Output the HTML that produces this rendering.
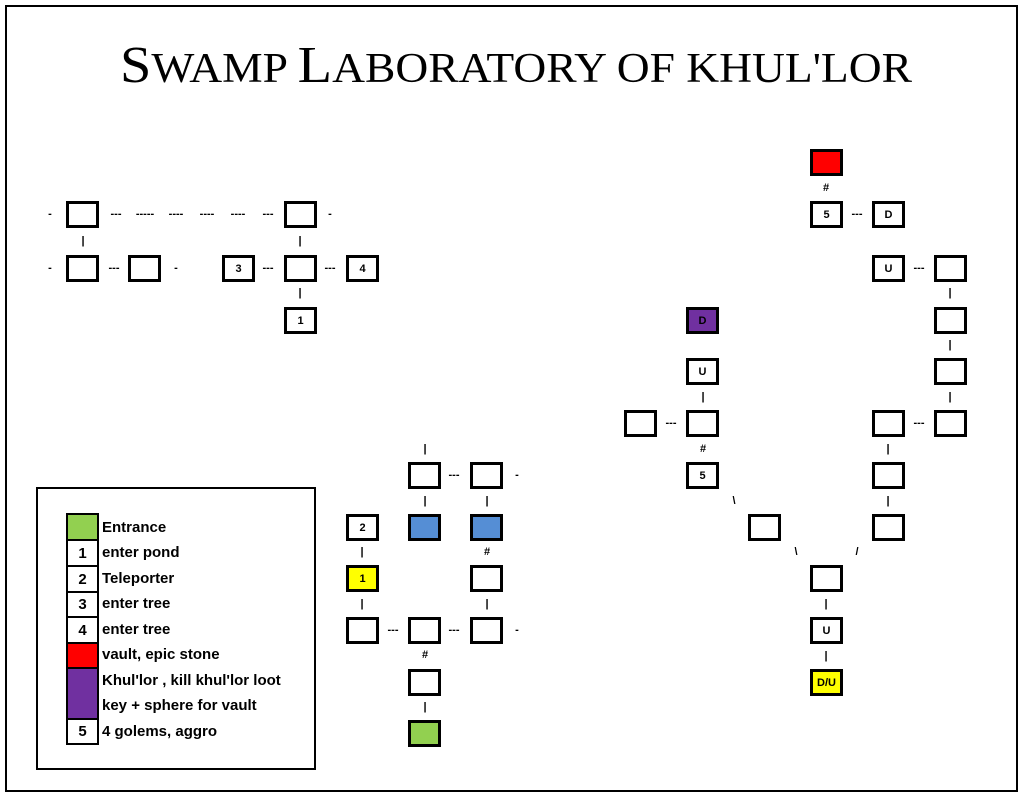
<!DOCTYPE html>
<html><head><meta charset="utf-8"><style>
body{margin:0;width:1026px;height:800px;background:#fff;position:relative;overflow:hidden;font-family:"Liberation Sans",sans-serif}
.frame{position:absolute;left:5px;top:5px;width:1013px;height:787px;border:2px solid #000;box-sizing:border-box}
.b{position:absolute;width:33px;height:27px;border:3px solid #000;box-sizing:border-box;font:bold 11px "Liberation Sans",sans-serif;display:flex;align-items:center;justify-content:center;background:#fff}
.c{position:absolute;font:bold 11px "Liberation Sans",sans-serif;transform:translate(-50%,-50%);white-space:nowrap}
.leg{position:absolute;left:36px;top:487px;width:280px;height:283px;border:2px solid #000;box-sizing:border-box}
.lc{position:absolute;left:66px;width:33px;border:2px solid #000;box-sizing:border-box;font:bold 15px "Liberation Sans",sans-serif;display:flex;align-items:center;justify-content:center;background:#fff}
.lt{position:absolute;left:102px;font:bold 15px "Liberation Sans",sans-serif;white-space:nowrap}
.g{background:#92d050}.bl{background:#558ed5}.y{background:#ffff00}.r{background:#ff0000}.p{background:#7030a0}
.lc.g{background:#92d050}.lc.r{background:#ff0000}.lc.p{background:#7030a0}
</style></head><body>
<div class="frame"></div>
<svg style="position:absolute;left:0;top:0" width="1026" height="110"><text x="120" y="82" textLength="792" lengthAdjust="spacingAndGlyphs" font-family="Liberation Serif" font-size="52"><tspan>S</tspan><tspan font-size="42">WAMP </tspan><tspan>L</tspan><tspan font-size="42">ABORATORY OF KHUL'LOR</tspan></text></svg>

<!-- top-left -->
<div class="b" style="left:66px;top:201px"></div>
<div class="b" style="left:284px;top:201px"></div>
<div class="b" style="left:66px;top:255px"></div>
<div class="b" style="left:128px;top:255px"></div>
<div class="b" style="left:222px;top:255px">3</div>
<div class="b" style="left:284px;top:255px"></div>
<div class="b" style="left:346px;top:255px">4</div>
<div class="b" style="left:284px;top:307px">1</div>
<div class="c" style="left:50px;top:214px">-</div>
<div class="c" style="left:116px;top:214px">---</div>
<div class="c" style="left:145px;top:214px">-----</div>
<div class="c" style="left:176px;top:214px">----</div>
<div class="c" style="left:207px;top:214px">----</div>
<div class="c" style="left:238px;top:214px">----</div>
<div class="c" style="left:268px;top:214px">---</div>
<div class="c" style="left:330px;top:214px">-</div>
<div class="c" style="left:83px;top:241px">|</div>
<div class="c" style="left:300px;top:241px">|</div>
<div class="c" style="left:300px;top:293px">|</div>
<div class="c" style="left:50px;top:268px">-</div>
<div class="c" style="left:114px;top:268px">---</div>
<div class="c" style="left:176px;top:268px">-</div>
<div class="c" style="left:268px;top:268px">---</div>
<div class="c" style="left:330px;top:268px">---</div>

<!-- middle -->
<div class="b" style="left:408px;top:462px"></div>
<div class="b" style="left:470px;top:462px"></div>
<div class="b bl" style="left:408px;top:514px"></div>
<div class="b bl" style="left:470px;top:514px"></div>
<div class="b" style="left:346px;top:514px">2</div>
<div class="b y" style="left:346px;top:565px">1</div>
<div class="b" style="left:470px;top:565px"></div>
<div class="b" style="left:346px;top:617px"></div>
<div class="b" style="left:408px;top:617px"></div>
<div class="b" style="left:470px;top:617px"></div>
<div class="b" style="left:408px;top:669px"></div>
<div class="b g" style="left:408px;top:720px"></div>
<div class="c" style="left:425px;top:449px">|</div>
<div class="c" style="left:454px;top:475px">---</div>
<div class="c" style="left:517px;top:475px">-</div>
<div class="c" style="left:425px;top:501px">|</div>
<div class="c" style="left:487px;top:501px">|</div>
<div class="c" style="left:362px;top:552px">|</div>
<div class="c" style="left:487px;top:552px">#</div>
<div class="c" style="left:362px;top:604px">|</div>
<div class="c" style="left:487px;top:604px">|</div>
<div class="c" style="left:393px;top:630px">---</div>
<div class="c" style="left:454px;top:630px">---</div>
<div class="c" style="left:517px;top:630px">-</div>
<div class="c" style="left:425px;top:655px">#</div>
<div class="c" style="left:425px;top:707px">|</div>

<!-- right -->
<div class="b r" style="left:810px;top:149px"></div>
<div class="c" style="left:826px;top:188px">#</div>
<div class="b" style="left:810px;top:201px">5</div>
<div class="c" style="left:857px;top:214px">---</div>
<div class="b" style="left:872px;top:201px">D</div>
<div class="b" style="left:872px;top:255px">U</div>
<div class="c" style="left:919px;top:268px">---</div>
<div class="b" style="left:934px;top:255px"></div>
<div class="c" style="left:950px;top:293px">|</div>
<div class="b" style="left:934px;top:307px"></div>
<div class="c" style="left:950px;top:345px">|</div>
<div class="b" style="left:934px;top:358px"></div>
<div class="c" style="left:950px;top:397px">|</div>
<div class="b" style="left:934px;top:410px"></div>
<div class="c" style="left:919px;top:423px">---</div>
<div class="b" style="left:872px;top:410px"></div>
<div class="c" style="left:888px;top:449px">|</div>
<div class="b" style="left:872px;top:462px"></div>
<div class="c" style="left:888px;top:501px">|</div>
<div class="b" style="left:872px;top:514px"></div>
<div class="c" style="left:857px;top:552px">/</div>
<div class="b" style="left:810px;top:565px"></div>
<div class="c" style="left:826px;top:604px">|</div>
<div class="b" style="left:810px;top:617px">U</div>
<div class="c" style="left:826px;top:656px">|</div>
<div class="b y" style="left:810px;top:669px">D/U</div>
<div class="b p" style="left:686px;top:307px">D</div>
<div class="b" style="left:686px;top:358px">U</div>
<div class="c" style="left:703px;top:397px">|</div>
<div class="b" style="left:686px;top:410px"></div>
<div class="b" style="left:624px;top:410px"></div>
<div class="c" style="left:671px;top:423px">---</div>
<div class="c" style="left:703px;top:449px">#</div>
<div class="b" style="left:686px;top:462px">5</div>
<div class="c" style="left:734px;top:501px">\</div>
<div class="b" style="left:748px;top:514px"></div>
<div class="c" style="left:796px;top:552px">\</div>

<!-- legend -->
<div class="leg"></div>
<div class="lc g" style="top:513px;height:28px"></div>
<div class="lc" style="top:539px;height:28px">1</div>
<div class="lc" style="top:565px;height:28px">2</div>
<div class="lc" style="top:591px;height:27px">3</div>
<div class="lc" style="top:616px;height:28px">4</div>
<div class="lc r" style="top:642px;height:27px"></div>
<div class="lc p" style="top:667px;height:53px"></div>
<div class="lc" style="top:718px;height:27px">5</div>
<div class="lt" style="top:519px">Entrance</div>
<div class="lt" style="top:544px">enter pond</div>
<div class="lt" style="top:570px">Teleporter</div>
<div class="lt" style="top:595px">enter tree</div>
<div class="lt" style="top:621px">enter tree</div>
<div class="lt" style="top:646px">vault, epic stone</div>
<div class="lt" style="top:672px">Khul'lor , kill khul'lor loot</div>
<div class="lt" style="top:697px">key + sphere for vault</div>
<div class="lt" style="top:723px">4 golems, aggro</div>
</body></html>
